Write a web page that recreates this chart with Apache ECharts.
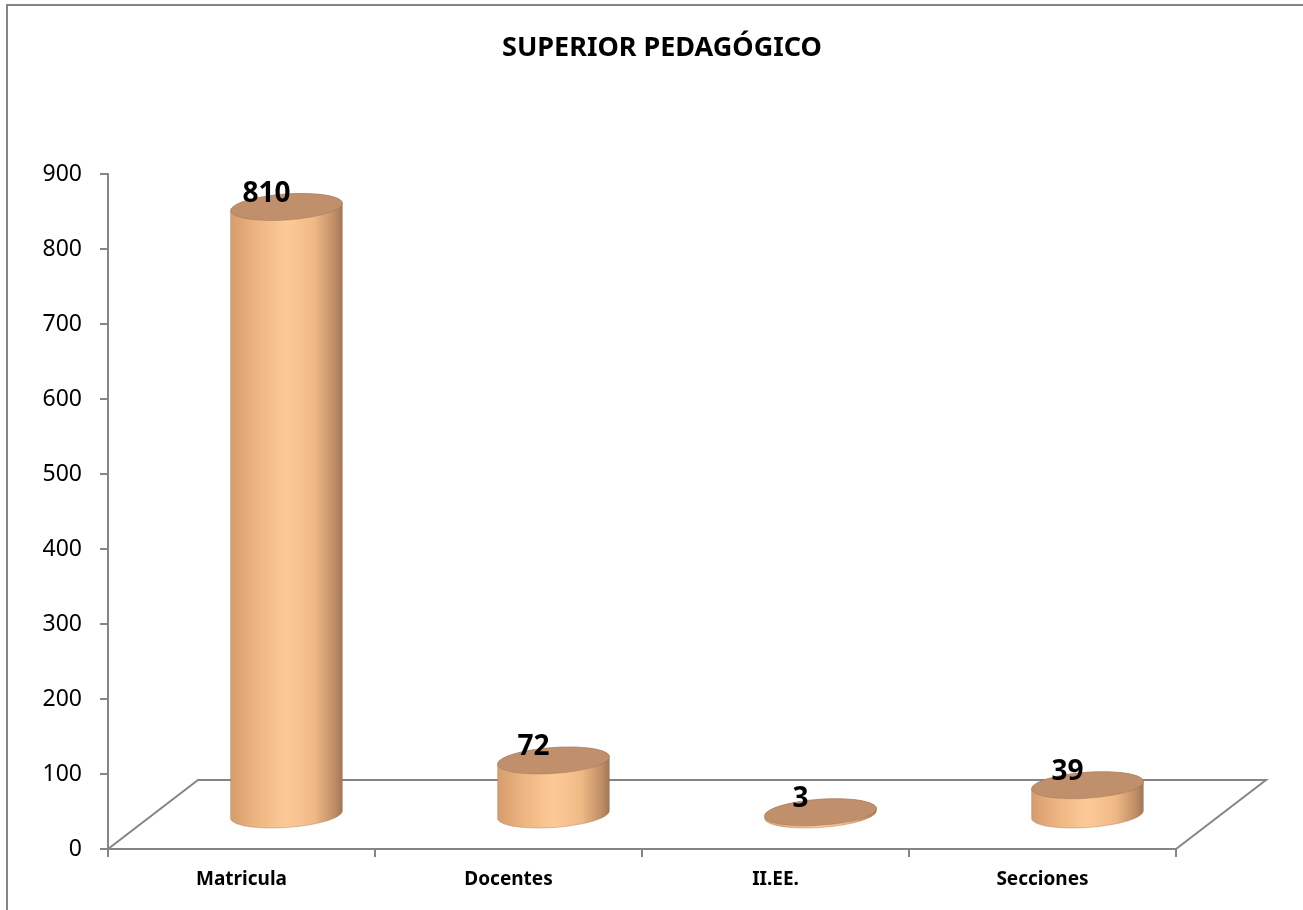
<!DOCTYPE html>
<html>
<head>
<meta charset="utf-8">
<script src="https://cdn.jsdelivr.net/npm/echarts@6/dist/echarts.min.js"></script>
<style>
html,body{margin:0;padding:0;background:#fff;}
#c{width:1303px;height:910px;}
</style>
</head>
<body>
<div id="c"></div>
<script>
const title = 'SUPERIOR PEDAGÓGICO';
const categories = ['Matricula', 'Docentes', 'II.EE.', 'Secciones'];
const values = [810, 72, 3, 39];
const yMin = 0, yMax = 900, yStep = 100;

const AXIS_COLOR = '#858585';
const DX = 45, DY = -34.5;   // half depth offset of the 3D floor
const RX = 56, RY = 13, ROT = -0.07;

function ellPts(cx, cy, t0, t1, n) {
  const pts = [];
  const ca = Math.cos(ROT), sa = Math.sin(ROT);
  for (let k = 0; k <= n; k++) {
    const t = t0 + (t1 - t0) * k / n;
    const x = RX * Math.cos(t), y = RY * Math.sin(t);
    pts.push([cx + x * ca - y * sa, cy + x * sa + y * ca]);
  }
  return pts;
}

function renderFloor(params, api) {
  const first = api.coord([0, 0]);
  const last = api.coord([categories.length - 1, 0]);
  const band = api.size([1, 0])[0];
  const fl = [first[0] - band / 2, first[1]];
  const fr = [last[0] + band / 2, last[1]];
  const bl = [fl[0] + 2 * DX, fl[1] + 2 * DY];
  const br = [fr[0] + 2 * DX, fr[1] + 2 * DY];
  const st = {stroke: AXIS_COLOR, lineWidth: 2, fill: null};
  return {
    type: 'group',
    children: [
      {type: 'polyline', shape: {points: [fl, bl, br, fr]}, style: st}
    ]
  };
}

function renderCyl(params, api) {
  const i = api.value(0), v = api.value(1);
  const base = api.coord([i, 0]);
  const top = api.coord([i, v]);
  const cx = base[0] + DX;
  const by = base[1] + DY;
  const ty = top[1] + DY;
  const lowerBottom = ellPts(cx, by, Math.PI, 0, 40);
  const upperTop = ellPts(cx, ty, 0, -Math.PI, 40);
  const side = lowerBottom.concat(upperTop);
  const topEll = ellPts(cx, ty, 0, 2 * Math.PI, 80);
  const grad = new echarts.graphic.LinearGradient(0, 0, 1, 0, [
    {offset: 0, color: '#d69c6c'},
    {offset: 0.2, color: '#eab27f'},
    {offset: 0.5, color: '#fdca97'},
    {offset: 0.75, color: '#efb985'},
    {offset: 0.92, color: '#c18f66'},
    {offset: 1, color: '#9f7656'}
  ]);
  return {
    type: 'group',
    children: [
      {type: 'polygon', shape: {points: side}, style: {fill: grad, stroke: 'rgba(150,110,80,0.35)', lineWidth: 1}},
      {type: 'polygon', shape: {points: topEll}, style: {fill: '#c0906d', stroke: 'rgba(140,100,70,0.3)', lineWidth: 1}},
      {type: 'text', style: {text: String(v), x: cx - 20, y: ty - 13, align: 'center', verticalAlign: 'middle',
        font: 'bold 28px "Noto Sans"', fill: '#000'}}
    ]
  };
}

const chart = echarts.init(document.getElementById('c'), null, {renderer: 'canvas'});
chart.setOption({
  backgroundColor: '#fff',
  animation: false,
  title: {
    text: title, left: 497, top: 30,
    textStyle: {fontFamily: 'Noto Sans', fontWeight: 'bold', fontSize: 27, color: '#000'}
  },
  graphic: [{
    type: 'rect', shape: {x: 7, y: 5, width: 1400, height: 1000},
    style: {fill: null, stroke: AXIS_COLOR, lineWidth: 2}, silent: true, z: -10
  }],
  grid: {left: 108, right: 127, top: 174, bottom: 61},
  xAxis: {
    type: 'category', data: categories, boundaryGap: true,
    axisLine: {show: true, lineStyle: {color: AXIS_COLOR, width: 2}},
    axisTick: {show: true, length: 8, lineStyle: {color: AXIS_COLOR, width: 2}},
    axisLabel: {margin: 21, color: '#000', fontFamily: 'Noto Sans', fontWeight: 'bold', fontSize: 19},
    splitLine: {show: false}
  },
  yAxis: {
    type: 'value', min: yMin, max: yMax, interval: yStep,
    axisLine: {show: true, lineStyle: {color: AXIS_COLOR, width: 2}},
    axisTick: {show: true, length: 8, lineStyle: {color: AXIS_COLOR, width: 2}},
    axisLabel: {margin: 26, color: '#000', fontFamily: 'Noto Sans', fontSize: 23},
    splitLine: {show: false}
  },
  series: [
    {type: 'custom', renderItem: renderFloor, data: [[0, 0]], clip: false, z: 1, silent: true},
    {type: 'custom', renderItem: renderCyl, data: categories.map((c, i) => [i, values[i]]), clip: false, z: 2}
  ]
});
</script>
</body>
</html>
